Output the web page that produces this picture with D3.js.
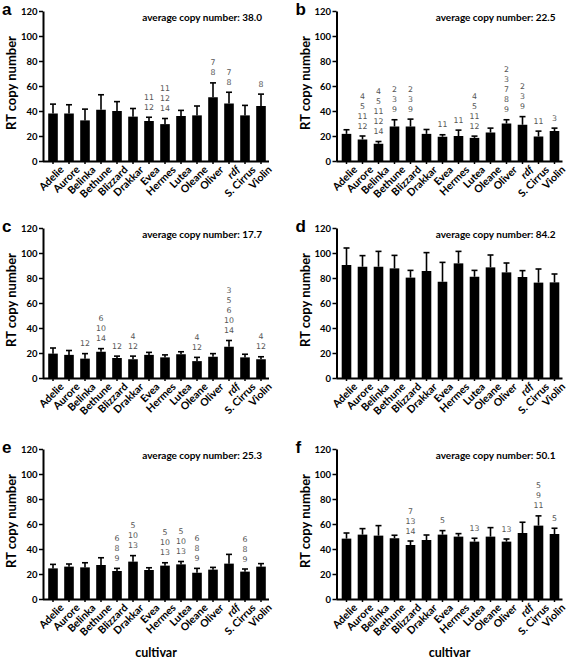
<!DOCTYPE html>
<html><head><meta charset="utf-8">
<script src="https://cdn.jsdelivr.net/npm/d3@7"></script>
<style>body{margin:0;background:#fff} svg{display:block}</style>
</head><body><svg id="c" width="567" height="659"></svg>
<script>
const categories = ["Adelie","Aurore","Belinka","Bethune","Blizzard","Drakkar","Evea","Hermes","Lutea","Oleane","Oliver","rdf","S. Cirrus","Violin"];
const yTicks = [0,20,40,60,80,100,120];
const panelLetters = ["a","b","c","d","e","f"];
const averages = ["38.0","22.5","17.7","84.2","25.3","50.1"];

const meanA = [38,38,32.5,41,40,35.5,32,29.5,36,36.5,51,46,36.5,44];
const sdA   = [7.5,7,9,12,7.5,6.5,3,4.5,4.5,7.5,11.5,9,8,9.5];
const notesA = [[],[],[],[],[],[],["11","12"],["11","12","14"],[],[],["7","8"],["7","8"],[],["8"]];

const meanB = [21.7,17.2,13.8,27.6,27.6,21.7,19.4,20,18.5,22.8,30,29,19.6,24];
const sdB   = [3.3,2.8,1.8,5.4,5.9,3.5,1.6,4.7,1.4,3.5,3,6.5,4.3,2.3];
const notesB = [[],["4","5","11","12"],["4","5","11","12","14"],["2","3","9"],["2","3","9"],[],["11"],["11"],["4","5","11","12"],[],["2","3","7","8","9"],["2","3","9"],["11"],["3"]];

const meanC = [19.5,18.5,15.5,21,16,15,18.5,16.5,19,13.5,17,25,16.5,15];
const sdC   = [4.5,3.5,4,2.5,1.5,2.5,2,2,2,3,2.5,5,2.5,2];
const notesC = [[],[],["12"],["6","10","14"],["12"],["4","12"],[],[],[],["4","12"],[],["3","5","6","10","14"],[],["4","12"]];

const meanD = [90.4,89,89,87.7,80.3,85.6,77,91.7,81,88.5,84.5,80.8,76.3,76.5];
const sdD   = [13.6,8.9,12.3,10.4,5.8,14.7,15.5,9.6,5.1,9.9,7.5,5.1,10.9,6.7];
const notesD = [[],[],[],[],[],[],[],[],[],[],[],[],[],[]];

const meanE = [24.5,25.9,25.3,27.2,22.4,29.9,23.2,26.7,27.7,21,23.5,28.3,21.9,25.9];
const sdE   = [3.2,2.1,3.7,5.8,2.1,4.8,1.8,2.3,2.3,3.5,1.8,7.4,2.1,2.4];
const notesE = [[],[],[],[],["6","8","9"],["5","10","13"],[],["5","10","13"],["5","10","13"],["6","8","9"],[],[],["6","8","9"],[]];

const meanF = [48.3,51.5,50.7,48.6,43.2,47.2,51.5,49.9,45.9,49.9,45.9,52.8,58.7,52];
const sdF   = [4.5,4.8,8,2.4,3.2,4,3.2,2.4,2.7,7.2,2.1,8.6,7.8,4.6];
const notesF = [[],[],[],[],["7","13","14"],[],["5"],[],["13"],[],["13"],[],["5","9","11"],["5"]];

const panelMeans = [meanA,meanB,meanC,meanD,meanE,meanF];
const panelSds = [sdA,sdB,sdC,sdD,sdE,sdF];
const panelNotes = [notesA,notesB,notesC,notesD,notesE,notesF];

const svg = d3.select("#c");
const BOLD = "Lato, 'Open Sans', sans-serif";
const colX = [43, 336.5];
const rowY0 = [161, 378, 599];

panelLetters.forEach((letter, i) => {
  const col = i % 2, row = Math.floor(i / 2);
  const ax = colX[col], y0 = rowY0[row];
  const g = svg.append("g");
  const x = d3.scaleBand().domain(categories).range([ax + 2, ax + 2 + 16 * 14]).paddingInner(0.4).paddingOuter(0.2);
  const y = d3.scaleLinear().domain([0, 120]).range([y0, y0 - 150]);
  const data = categories.map((c, k) => ({c, m: panelMeans[i][k], sd: panelSds[i][k], notes: panelNotes[i][k]}));

  g.selectAll("rect.bar").data(data).join("rect")
    .attr("x", d => x(d.c)).attr("width", x.bandwidth())
    .attr("y", d => y(d.m)).attr("height", d => y(0) - y(d.m))
    .attr("fill", "#000");
  const cx = d => x(d.c) + x.bandwidth() / 2;
  g.selectAll("line.err").data(data).join("line")
    .attr("x1", cx).attr("x2", cx)
    .attr("y1", d => y(d.m)).attr("y2", d => y(d.m + d.sd))
    .attr("stroke", "#000").attr("stroke-width", 1.6);
  g.selectAll("line.cap").data(data).join("line")
    .attr("x1", d => cx(d) - 3).attr("x2", d => cx(d) + 3)
    .attr("y1", d => y(d.m + d.sd)).attr("y2", d => y(d.m + d.sd))
    .attr("stroke", "#000").attr("stroke-width", 1.6);

  const notes = g.append("g").attr("opacity", 0.99);
  data.forEach(d => {
    const n = d.notes.length;
    d.notes.forEach((t, j) => {
      notes.append("text")
        .attr("x", cx(d)).attr("y", y(d.m + d.sd) - 7.5 - (n - 1 - j) * 10)
        .attr("text-anchor", "middle")
        .attr("font-family", "'DejaVu Sans', sans-serif").attr("font-size", 7.8)
        .attr("fill", "#555").text(t);
    });
  });

  const yAxis = g.append("g").attr("transform", `translate(${ax},0)`)
    .call(d3.axisLeft(y).tickValues(yTicks).tickSize(4).tickPadding(1.5).tickSizeOuter(0));
  yAxis.select(".domain").attr("stroke-width", 2);
  yAxis.selectAll(".tick line").attr("stroke-width", 1.5);
  yAxis.selectAll("text").attr("font-family", BOLD).attr("font-weight", "bold").attr("font-size", 9.5).attr("fill", "#000");

  const xAxis = g.append("g").attr("transform", `translate(0,${y0})`)
    .call(d3.axisBottom(x).tickSize(3).tickSizeOuter(0));
  xAxis.select(".domain").attr("stroke-width", 2).attr("d", `M${ax},0.5H${ax + 2 + 16 * 14}`);
  xAxis.selectAll(".tick line").attr("stroke-width", 1.5);
  xAxis.selectAll("text")
    .attr("font-family", BOLD).attr("font-weight", "bold").attr("font-size", 10.5).attr("fill", "#000")
    .attr("font-style", d => d === "rdf" ? "italic" : "normal")
    .attr("text-anchor", "end")
    .attr("transform", "translate(4,2) rotate(-45)")
    .attr("dy", "0.71em").attr("y", 3);

  g.append("text")
    .attr("transform", `translate(${ax - 27},${y0 - 78}) rotate(-90)`)
    .attr("text-anchor", "middle")
    .attr("font-family", BOLD).attr("font-weight", "bold").attr("font-size", 13)
    .text("RT copy number");

  g.append("text").attr("x", ax - 41).attr("y", y0 - 146)
    .attr("font-family", "'Liberation Sans', Arial, sans-serif").attr("font-weight", "bold").attr("font-size", 17)
    .text(letter);

  g.append("text").attr("x", ax + 219).attr("y", y0 - 140)
    .attr("text-anchor", "end")
    .attr("font-family", BOLD).attr("font-weight", "bold").attr("font-size", 10)
    .text("average copy number: " + averages[i]);

  if (row === 2) {
    g.append("text").attr("x", ax + 113).attr("y", 657)
      .attr("text-anchor", "middle")
      .attr("font-family", BOLD).attr("font-weight", "bold").attr("font-size", 12.5)
      .text("cultivar");
  }
});
</script></body></html>
